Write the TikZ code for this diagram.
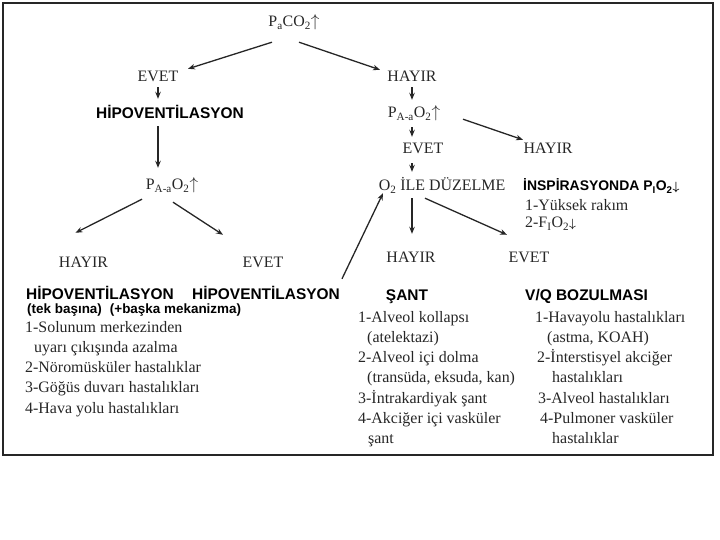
\documentclass[tikz,border=0pt]{standalone}
\usepackage{amsmath}
\usepackage{fontspec}
\setmainfont{Liberation Serif}
\setsansfont{Liberation Sans}
\usetikzlibrary{arrows.meta}
\definecolor{textgray}{RGB}{38,38,38}
\newcommand{\smalldown}{{\fontsize{12}{12}\selectfont$\boldsymbol{\downarrow}$}}

\tikzset{
  lbl/.style={font=\fontsize{16}{20}\selectfont, text=textgray, inner xsep=2bp, inner ysep=2bp, text height=11bp, text depth=3bp},
  head/.style={font=\sffamily\bfseries\fontsize{15.5}{18}\selectfont, inner sep=2bp, text height=11bp, text depth=3bp},
  lst/.style={font=\fontsize{16}{20.25}\selectfont, text=textgray, align=left, anchor=north west, inner sep=0pt},
  arr/.style={-{Stealth[length=7bp,width=5.5bp]}, line width=1.3bp, black!85}
}

\begin{document}
\begin{tikzpicture}[x=1bp, y=-1bp]
  \useasboundingbox (0,0) rectangle (720,540);
  \draw[line width=1.4bp, black!85] (3,3) rectangle (713,455);

  % top
  \node[lbl] (paco2) at (294,23) {P\textsubscript{a}CO\textsubscript{2}$\uparrow$};

  % left branch
  \node[lbl] (evetL) at (158,78) {EVET};
  \node[head] (hipo) at (170,115) {HİPOVENTİLASYON};
  \node[lbl] (paao2L) at (172,186) {P\textsubscript{A-a}O\textsubscript{2}$\uparrow$};
  \node[lbl] (hayirL) at (83.5,264) {HAYIR};
  \node[lbl] (evetM) at (263,264) {EVET};
  \node[head] (hipoA) at (100,295) {HİPOVENTİLASYON};
  \node[head] (hipoB) at (266,295) {HİPOVENTİLASYON};
  \node[head, font=\sffamily\bfseries\fontsize{13.5}{16}\selectfont, anchor=west, inner sep=0pt, text height=, text depth=] (mech) at (27,310) {(tek başına)\hspace{8bp}(+başka mekanizma)};
  \node[lst] (listL) at (25,318) {\strut 1-Solunum merkezinden\\\hspace*{9bp}uyarı çıkışında azalma\\2-Nöromüsküler hastalıklar\\3-Göğüs duvarı hastalıkları\\4-Hava yolu hastalıkları};

  % right branch
  \node[lbl] (hayirR1) at (412,78) {HAYIR};
  \node[lbl] (paao2R) at (414,114) {P\textsubscript{A-a}O\textsubscript{2}$\uparrow$};
  \node[lbl] (evetR) at (423,150) {EVET};
  \node[lbl] (o2dz) at (442,187) {O\textsubscript{2} İLE DÜZELME};
  \node[lbl] (hayirR2) at (548,150) {HAYIR};
  \node[head, font=\sffamily\bfseries\fontsize{14}{17}\selectfont, anchor=west, inner sep=0pt] (insp) at (523,187) {İNSPİRASYONDA P\textsubscript{I}O\textsubscript{2}\smalldown};
  \node[lst, font=\fontsize{16}{17.5}\selectfont] (inspL) at (525,198) {\strut 1-Yüksek rakım\\2-F\textsubscript{I}O\textsubscript{2}\smalldown};
  \node[lbl] (hayirR3) at (411,259) {HAYIR};
  \node[lbl] (evetR3) at (529,259) {EVET};
  \node[head] (sant) at (407,296) {ŞANT};
  \node[head, anchor=west, inner sep=0pt] (vq) at (525,296) {V/Q BOZULMASI};
  \node[lst] (listM) at (358,308) {\strut 1-Alveol kollapsı\\\hspace*{9bp}(atelektazi)\\2-Alveol içi dolma\\\hspace*{9bp}(transüda, eksuda, kan)\\3-İntrakardiyak şant\\4-Akciğer içi vasküler\\\hspace*{10bp}şant};
  \node[lst] (listR) at (535,308) {\strut 1-Havayolu hastalıkları\\\hspace*{12bp}(astma, KOAH)\\\hspace*{2bp}2-İnterstisyel akciğer\\\hspace*{17bp}hastalıkları\\\hspace*{3bp}3-Alveol hastalıkları\\\hspace*{5bp}4-Pulmoner vasküler\\\hspace*{17bp}hastalıklar};

  % arrows
  \draw[arr] ([shift={(-22,10)}]paco2.south) -- ([shift={(30,0)}]evetL.north);
  \draw[arr] ([shift={(5,10)}]paco2.south) -- ([shift={(-32,1)}]hayirR1.north);
  \draw[arr, shorten >=7bp] (evetL.south) -- (evetL.south |- hipo.north);
  \draw[arr, shorten <=2bp, shorten >=9bp] (evetL.south |- hipo.south) -- (evetL.south |- paao2L.north);
  \draw[arr] ([shift={(-30,4)}]paao2L.south) -- ([shift={(-8,-22)}]hayirL.north);
  \draw[arr] ([shift={(1,7)}]paao2L.south) -- ([shift={(-40,-20)}]evetM.north);
  \draw[arr] ([shift={(76,-7)}]hipoB.north) -- ([shift={(-59,-3)}]o2dz.south);
  \draw[arr, shorten >=5bp] (hayirR1.south) -- (hayirR1.south |- paao2R.north);
  \draw[arr, shorten <=4bp, shorten >=4bp] (hayirR1.south |- paao2R.south) -- (hayirR1.south |- evetR.north);
  \draw[arr, shorten <=4bp, shorten >=6bp] (hayirR1.south |- evetR.south) -- (hayirR1.south |- o2dz.north);
  \draw[arr] ([shift={(49,-4)}]paao2R.south) -- ([shift={(-25,-1)}]hayirR2.north);
  \draw[arr] ([shift={(-30,2)}]o2dz.south) -- ([shift={(1,-16)}]hayirR3.north);
  \draw[arr] ([shift={(-17,2)}]o2dz.south) -- ([shift={(-22,-15)}]evetR3.north);
\end{tikzpicture}
\end{document}
